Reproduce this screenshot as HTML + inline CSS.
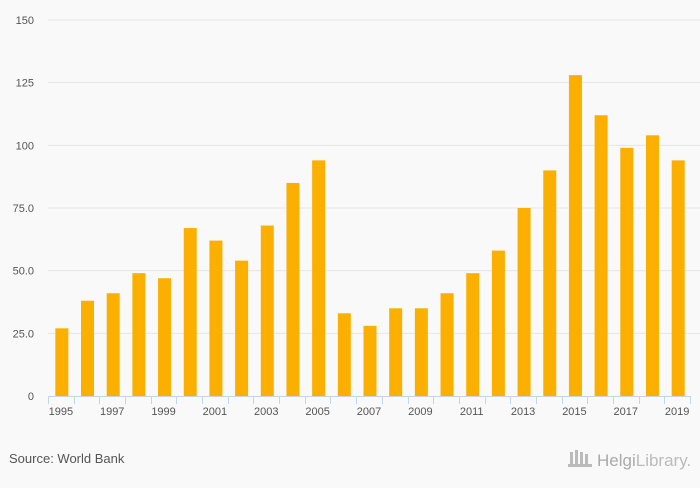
<!DOCTYPE html>
<html><head><meta charset="utf-8"><style>
body{margin:0;background:#f9f9f9;font-family:"Liberation Sans",sans-serif;}
svg text{font-family:"Liberation Sans",sans-serif;}
</style></head><body>
<svg id="chart" width="700" height="483">
<rect width="700" height="483" fill="#f9f9f9"/>
<g id="grid"></g><g id="bars"></g><g id="axis"></g>
<text x="9" y="463" font-size="13" fill="#555">Source: World Bank</text>
<g>
<rect x="570" y="452" width="3" height="14" fill="#bbb"/><rect x="575" y="450" width="3" height="16" fill="#bbb"/><rect x="580" y="452" width="3" height="14" fill="#bbb"/><rect x="585" y="454" width="3" height="12" fill="#bbb"/>
<rect x="568" y="464" width="24" height="3" fill="#bbb"/>
<text x="597" y="466" font-size="17" fill="#aaa" font-family="Liberation Serif, serif">Helgi<tspan fill="#bbb">Library.</tspan></text>
</g>
</svg>
<script>
const categories=[1995,1996,1997,1998,1999,2000,2001,2002,2003,2004,2005,2006,2007,2008,2009,2010,2011,2012,2013,2014,2015,2016,2017,2018,2019];
const values=[27,38,41,49,47,67,62,54,68,85,94,33,28,35,35,41,49,58,75,90,128,112,99,104,94];
const yTicks=[0,25,50,75,100,125,150];
const yTickLabels=["0","25.0","50.0","75.0","100","125","150"];
const NS="http://www.w3.org/2000/svg";
const x0=48,x1=690,yTop=20,yBot=396,yMax=150;
const bw=(x1-x0)/categories.length;
const y=v=>yBot-(v/yMax)*(yBot-yTop);
const xc=i=>x0+bw*(i+0.5);
function mk(t,a,p){const e=document.createElementNS(NS,t);for(const k in a)e.setAttribute(k,a[k]);p.appendChild(e);return e;}
const grid=document.getElementById('grid'),bars=document.getElementById('bars'),axis=document.getElementById('axis');
yTicks.forEach((v,i)=>{
 if(v>0){const l=mk('line',{x1:x0,x2:x1+10,y1:y(v),y2:y(v),stroke:'#e6e6e6'},grid);
 
 }
 const t=mk('text',{x:34,y:y(v)+4,'font-size':11,fill:'#555','text-anchor':'end'},grid);
 t.textContent=yTickLabels[i];
 
 
});
values.forEach((v,i)=>{
 const r=mk('rect',{x:xc(i)-5.5,y:y(v),width:13,height:yBot-y(v),fill:'#fbb000'},bars);
 
 
});
const al=mk('line',{x1:x0,x2:x1,y1:yBot+0.5,y2:yBot+0.5,stroke:'#c8d4e6'},axis);


for(let i=0;i<=categories.length;i++){
 const tx=Math.round(x0+bw*i)+0.5;
 const tk=mk('line',{x1:tx,x2:tx,y1:yBot,y2:yBot+8,stroke:'#c8d4e6'},axis);
 
 
}
categories.forEach((c,i)=>{
 if(i%2)return;
 const t=mk('text',{x:xc(i),y:yBot+19,'font-size':11,fill:'#555','text-anchor':'middle'},axis);
 t.textContent=c;
 
 
});
</script>
</body></html>
